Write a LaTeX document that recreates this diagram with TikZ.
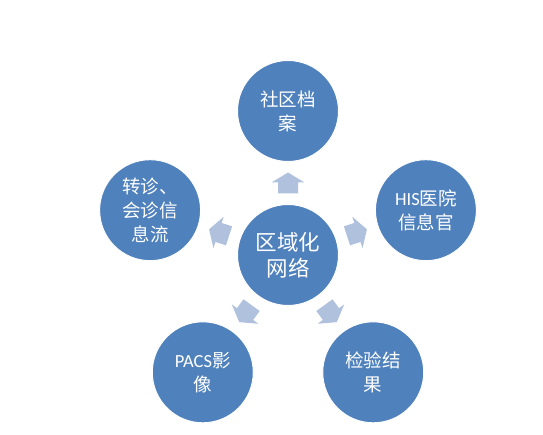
\documentclass[tikz,border=0pt]{standalone}
\usepackage{fontspec}
\setmainfont{Carlito}
\newfontfamily\cjk{Noto Sans CJK SC}
\usetikzlibrary{calc}
\definecolor{circblue}{HTML}{4F81BD}
\definecolor{arrfill}{HTML}{AFC1DD}
\tikzset{
  bubble/.style={circle, fill=circblue, draw=white, line width=1pt, minimum size=101pt, inner sep=0pt,
    text=white, align=center, font=\fontsize{18.5}{24}\selectfont},
  hub/.style={bubble, font=\fontsize{21.5}{26}\selectfont},
  pics/blockarrow/.style={code={
    \fill[arrfill] (-10.5,-10) -- (0.5,-10) -- (0.5,-16.5) -- (10.5,0) -- (0.5,16.5) -- (0.5,10) -- (-10.5,10) -- cycle;
  }}
}
\begin{document}
\begin{tikzpicture}[x=1pt,y=1pt]
\useasboundingbox (0,0) rectangle (543,435);
\coordinate (o) at (288,180);
\node[hub] (c) at (o) {\cjk 区域化\\\cjk 网络};
\node[bubble] (t) at ($(o)+(90:144)$) {\cjk 社区档\\\cjk 案};
\node[bubble] (r) at ($(o)+(18:145)$) {HIS{\cjk 医院}\\\cjk 信息官};
\node[bubble] (br) at ($(o)+(-54:145)$) {\cjk 检验结\\\cjk 果};
\node[bubble] (bl) at ($(o)+(-126:145)$) {PACS{\cjk 影}\\\cjk 像};
\node[bubble] (l) at ($(o)+(162:145)$) {\cjk 转诊、\\\cjk 会诊信\\\cjk 息流};
\pic[rotate=90] at ($(c)!0.5!(t)$) {blockarrow};
\pic[rotate=18] at ($(c)!0.5!(r)$) {blockarrow};
\pic[rotate=-54] at ($(c)!0.5!(br)$) {blockarrow};
\pic[rotate=-126] at ($(c)!0.5!(bl)$) {blockarrow};
\pic[rotate=162] at ($(c)!0.5!(l)$) {blockarrow};
\end{tikzpicture}
\end{document}
